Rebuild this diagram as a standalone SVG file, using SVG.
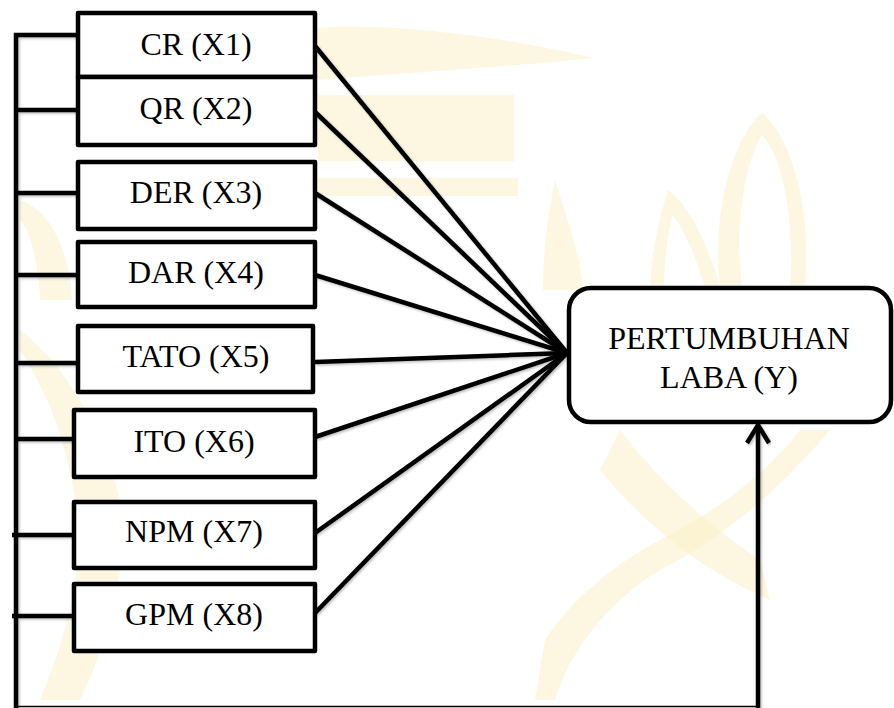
<svg xmlns="http://www.w3.org/2000/svg" width="894" height="708" viewBox="0 0 894 708">
  <defs>
    <style>
      .box { fill: #ffffff; stroke: #000000; stroke-width: 4.5; stroke-linejoin: round; }
      .lbl { font-family: "Liberation Serif", "Times New Roman", serif; font-size: 32px; fill: #000000; text-anchor: middle; }
      .wire { fill: none; stroke: #000000; stroke-width: 4.5; stroke-linecap: butt; }
      .thin { fill: none; stroke: #000000; stroke-width: 1.5; }
      .mark { fill: #fcefc4; opacity: 0.5; }
    </style>
    <filter id="soft" x="-5%" y="-5%" width="110%" height="110%">
      <feDropShadow dx="1.5" dy="1.5" stdDeviation="1.2" flood-color="#000000" flood-opacity="0.25"/>
    </filter>
  </defs>

  <rect width="894" height="708" fill="#ffffff"/>

  <!-- faint background emblem -->
  <g id="emblem">
    <path class="mark" d="M318,28 C400,22 520,40 592,58 C520,66 420,72 318,80 Z"/>
    <rect class="mark" x="318" y="95" width="196" height="66"/>
    <rect class="mark" x="318" y="178" width="200" height="18"/>
    <path class="mark" d="M720,287 C712,220 730,140 762,113 C795,140 812,220 805,287 L790,287 C795,230 785,160 762,135 C742,170 735,230 742,287 Z"/>
    <path class="mark" d="M650,287 C652,250 660,215 668,190 C690,205 710,250 720,287 L705,287 C695,255 685,230 672,215 C667,240 664,262 664,287 Z"/>
    <path class="mark" d="M543,290 C543,250 548,215 555,180 C565,215 580,250 583,290 Z"/>
    <path class="mark" d="M620,430 C650,470 700,520 760,560 L770,600 C700,570 640,520 600,470 Z"/>
    <path class="mark" d="M800,430 C770,470 720,510 660,540 C620,560 570,600 545,640 L535,700 L555,700 C570,650 610,600 660,570 C720,540 780,490 830,430 Z"/>
    <path class="mark" d="M20,330 C60,360 100,420 120,500 C130,560 110,640 80,700 L40,700 C70,630 85,560 75,500 C65,430 40,380 20,350 Z"/>
    <path class="mark" d="M20,200 C50,210 70,250 72,300 L40,300 C38,260 30,230 20,220 Z"/>
  </g>

  <!-- connectors -->
  <g id="connectors">
    <!-- bracket on the left joining every factor -->
    <g filter="url(#soft)">
      <polyline class="wire" points="78,35 16,35 16,708"/>
      <line class="wire" x1="16" y1="110" x2="78" y2="110"/>
      <line class="wire" x1="16" y1="193" x2="78" y2="193"/>
      <line class="wire" x1="16" y1="275" x2="78" y2="275"/>
      <line class="wire" x1="16" y1="363" x2="78" y2="363"/>
      <line class="wire" x1="16" y1="439" x2="78" y2="439"/>
      <line class="wire" x1="12" y1="535" x2="74" y2="535"/>
      <line class="wire" x1="12" y1="616" x2="74" y2="616"/>
    </g>

    <!-- fan of links into the outcome -->
    <g filter="url(#soft)">
      <line class="wire" x1="315" y1="46" x2="567" y2="353"/>
      <line class="wire" x1="315" y1="112" x2="567" y2="353"/>
      <line class="wire" x1="315" y1="193" x2="567" y2="353"/>
      <line class="wire" x1="315" y1="275" x2="567" y2="353"/>
      <line class="wire" x1="315" y1="362" x2="567" y2="353"/>
      <line class="wire" x1="315" y1="437" x2="567" y2="353"/>
      <line class="wire" x1="315" y1="533" x2="567" y2="353"/>
      <line class="wire" x1="315" y1="613" x2="567" y2="353"/>
    </g>

    <!-- simultaneous path along the bottom and up into the outcome -->
    <line class="thin" x1="16" y1="706.5" x2="758" y2="706.5"/>
    <g filter="url(#soft)">
      <line class="wire" x1="758" y1="708" x2="758" y2="425"/>
      <polyline class="wire" points="747,443 758,425 769,443" stroke-linejoin="miter"/>
    </g>
  </g>

  <!-- factor nodes -->
  <g id="x1"><rect class="box" x="78" y="13" width="237" height="64"/><text class="lbl" x="196" y="55">CR (X1)</text></g>
  <g id="x2"><rect class="box" x="78" y="77" width="237" height="68"/><text class="lbl" x="196" y="119">QR (X2)</text></g>
  <g id="x3"><rect class="box" x="78" y="162" width="237" height="67"/><text class="lbl" x="196" y="203">DER (X3)</text></g>
  <g id="x4"><rect class="box" x="78" y="242" width="237" height="65"/><text class="lbl" x="196" y="283">DAR (X4)</text></g>
  <g id="x5"><rect class="box" x="78" y="326" width="235" height="66"/><text class="lbl" x="196" y="367">TATO (X5)</text></g>
  <g id="x6"><rect class="box" x="74" y="410" width="241" height="67"/><text class="lbl" x="194" y="452">ITO (X6)</text></g>
  <g id="x7"><rect class="box" x="74" y="502" width="241" height="66"/><text class="lbl" x="194" y="542">NPM (X7)</text></g>
  <g id="x8"><rect class="box" x="74" y="584" width="241" height="67"/><text class="lbl" x="194" y="625">GPM (X8)</text></g>

  <!-- outcome node -->
  <g id="y">
    <rect class="box" x="569" y="288" width="322" height="134" rx="22" ry="22"/>
    <text class="lbl" x="729" y="349">PERTUMBUHAN</text>
    <text class="lbl" x="729" y="388">LABA (Y)</text>
  </g>
</svg>
